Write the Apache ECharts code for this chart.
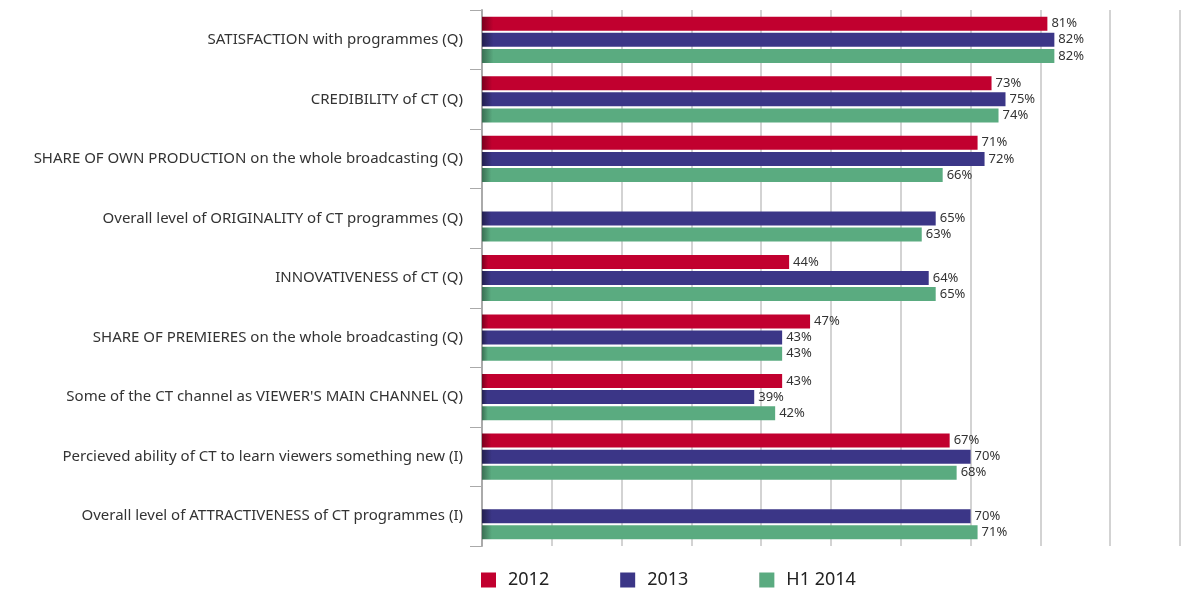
<!DOCTYPE html>
<html><head><meta charset="utf-8">
<script src="https://cdn.jsdelivr.net/npm/echarts@6/dist/echarts.min.js"></script>
<style>html,body{margin:0;padding:0;background:#fff}#c{width:1189px;height:589px}</style>
</head><body><div id="c"></div>
<script>
const categories = [
  "SATISFACTION with programmes (Q)",
  "CREDIBILITY of CT (Q)",
  "SHARE OF OWN PRODUCTION on the whole broadcasting (Q)",
  "Overall level of ORIGINALITY of CT programmes (Q)",
  "INNOVATIVENESS of CT (Q)",
  "SHARE OF PREMIERES on the whole broadcasting (Q)",
  "Some of the CT channel as VIEWER'S MAIN CHANNEL (Q)",
  "Percieved ability of CT to learn viewers something new (I)",
  "Overall level of ATTRACTIVENESS of CT programmes (I)"
];
const seriesNames = ["2012", "2013", "H1 2014"];
const values2012 = [81, 73, 71, null, 44, 47, 43, 67, null];
const values2013 = [82, 75, 72, 65, 64, 43, 39, 70, 70];
const valuesH12014 = [82, 74, 66, 63, 65, 43, 42, 68, 71];
const colors = ["#c1002f", "#3b3687", "#5aab80"];
const darkEdges = ["#7a001e", "#23204f", "#3a6f53"];

function grad(i){
  return new echarts.graphic.LinearGradient(0,0,1,0,[
    {offset:0,color:darkEdges[i]},{offset:0.02,color:colors[i]},{offset:1,color:colors[i]}
  ]);
}
const chart = echarts.init(document.getElementById('c'), null, {renderer:'canvas'});
const allVals = [values2012, values2013, valuesH12014];
chart.setOption({
  animation:false,
  color: colors,
  grid:{left:482, right:9, top:10, bottom:43, containLabel:false},
  legend:{
    left:481, top:571, padding:0, icon:'rect', itemWidth:15, itemHeight:15, itemGap:71,
    textStyle:{fontSize:18, color:'#222', fontFamily:'Noto Sans', padding:[0,0,0,7]},
    data: seriesNames
  },
  xAxis:{type:'value', min:0, max:100, interval:10,
    axisLabel:{show:false}, axisLine:{show:false}, axisTick:{show:false},
    splitLine:{show:true, lineStyle:{color:'#c4c4c4', width:1.5}}},
  yAxis:{type:'category', inverse:true, data:categories,
    axisLine:{show:true, lineStyle:{color:'#aaa', width:2}},
    axisTick:{show:true, length:12, lineStyle:{color:'#aaa', width:1}},
    axisLabel:{fontSize:15, color:'#333', fontFamily:'Noto Sans', margin:19}},
  series: allVals.map((d,i)=>({
    name: seriesNames[i], type:'bar', data:d,
    barWidth:14, barGap:'15%',
    itemStyle:{color: grad(i)},
    label:{show:true, position:'right', distance:4, fontSize:13, color:'#333', fontFamily:'Noto Sans',
      formatter: p => p.value==null ? '' : p.value + '%'}
  }))
});
</script></body></html>
